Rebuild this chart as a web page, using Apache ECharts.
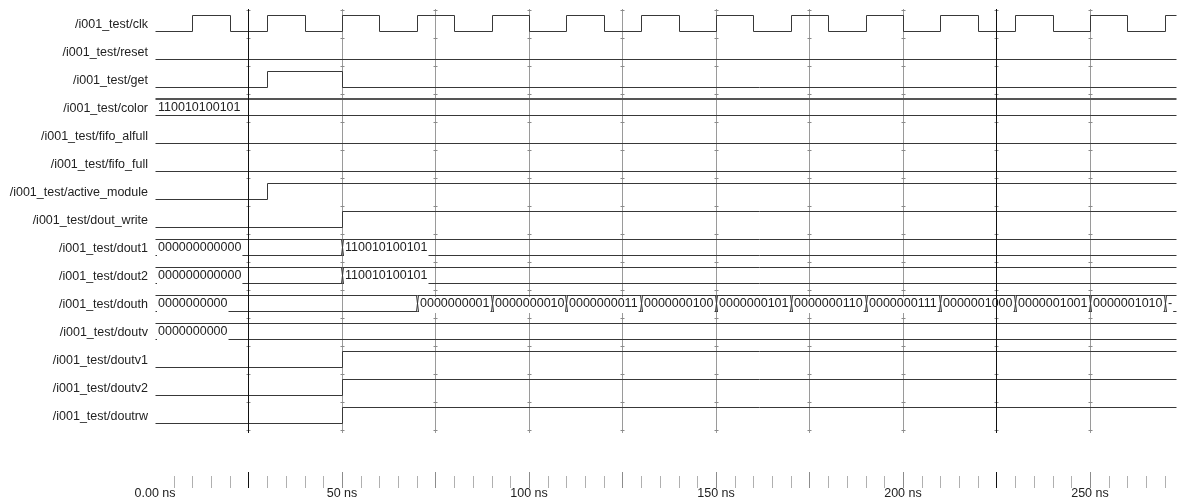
<!DOCTYPE html>
<html><head><meta charset="utf-8">
<script src="https://cdn.jsdelivr.net/npm/echarts@6/dist/echarts.min.js"></script>
<style>html,body{margin:0;padding:0;background:#fff}#c{width:1188px;height:502px}</style>
</head><body><div id="c"></div>
<script>
// ---------- data ----------
const signalNames = [
  '/i001_test/clk', '/i001_test/reset', '/i001_test/get', '/i001_test/color',
  '/i001_test/fifo_alfull', '/i001_test/fifo_full', '/i001_test/active_module',
  '/i001_test/dout_write', '/i001_test/dout1', '/i001_test/dout2', '/i001_test/douth',
  '/i001_test/doutv', '/i001_test/doutv1', '/i001_test/doutv2', '/i001_test/doutrw'
];
const signalKinds = ['bit','bit','bit','bus','bit','bit','bit','bit','bus','bus','bus','bus','bit','bit','bit'];

const clkWave = [[0,0],[10,1],[20,0],[30,1],[40,0],[50,1],[60,0],[70,1],[80,0],[90,1],[100,0],
  [110,1],[120,0],[130,1],[140,0],[150,1],[160,0],[170,1],[180,0],[190,1],[200,0],[210,1],
  [220,0],[230,1],[240,0],[250,1],[260,0],[270,1]];
const resetWave = [[0,0]];
const getWave = [[0,0],[30,1],[50,0]];
const colorBus = [[0,'110010100101']];
const fifoAlfullWave = [[0,0]];
const fifoFullWave = [[0,0]];
const activeModuleWave = [[0,0],[30,1]];
const doutWriteWave = [[0,0],[50,1]];
const dout1Bus = [[0,'000000000000'],[50,'110010100101']];
const dout2Bus = [[0,'000000000000'],[50,'110010100101']];
const douthBus = [[0,'0000000000'],[70,'0000000001'],[90,'0000000010'],[110,'0000000011'],
  [130,'0000000100'],[150,'0000000101'],[170,'0000000110'],[190,'0000000111'],
  [210,'0000001000'],[230,'0000001001'],[250,'0000001010'],[270,'0000001011']];
const doutvBus = [[0,'0000000000']];
const doutv1Wave = [[0,0],[50,1]];
const doutv2Wave = [[0,0],[50,1]];
const doutrwWave = [[0,0],[50,1]];

const signalWaves = [clkWave, resetWave, getWave, colorBus, fifoAlfullWave, fifoFullWave,
  activeModuleWave, doutWriteWave, dout1Bus, dout2Bus, douthBus, doutvBus,
  doutv1Wave, doutv2Wave, doutrwWave];

const timeMin = 0, timeMax = 273;
const gridTimes = [25,50,75,100,125,150,175,200,225,250];
const cursorTimes = [25,225];
const axisLabelTimes = [0,50,100,150,200,250];
const axisLabels = ['0.00 ns','50 ns','100 ns','150 ns','200 ns','250 ns'];
const minorStep = 5, majorStep = 25, lastTick = 270;
const boldTopRows = [3];
const noCoverRows = [3];

// ---------- rendering ----------
const WAVE = '#383838';
const TEXT = '#222';
const FONT = '12.5px "Liberation Sans"';
const mctx = document.createElement('canvas').getContext('2d');
mctx.font = FONT;
const tw = s => mctx.measureText(s).width;
const snap = v => Math.round(v) + 0.5;

const tickData = [];
for (let t = minorStep; t <= lastTick; t += minorStep) tickData.push([t, t % majorStep === 0 ? 1 : 0]);

function renderWave(params, api) {
  const i = api.value(1);
  const wave = signalWaves[i];
  const yc = api.coord([0, i])[1];
  const X = t => snap(api.coord([t, i])[0]);
  const xEnd = X(timeMax);
  const yHi = snap(yc - 10), yLo = snap(yc + 6);
  const kids = [];
  if (signalKinds[i] === 'bit') {
    const pts = [];
    wave.forEach(([t, v], k) => {
      const x = X(t), y = v ? yHi : yLo;
      if (k > 0) pts.push([x, pts[pts.length - 1][1]]);
      pts.push([x, y]);
    });
    pts.push([xEnd, pts[pts.length - 1][1]]);
    kids.push({type: 'polyline', shape: {points: pts}, style: {stroke: WAVE, lineWidth: 1, fill: null}});
  } else {
    const bold = boldTopRows.includes(i), cover = !noCoverRows.includes(i);
    const lines = [], covers = [], texts = [], trans = [];
    wave.forEach(([t, v], k) => {
      const x0 = X(t), x1 = k < wave.length - 1 ? X(wave[k + 1][0]) : xEnd;
      if (bold) lines.push({type: 'line', shape: {x1: x0, y1: yHi - 0.5, x2: x1, y2: yHi - 0.5}, style: {stroke: '#555', lineWidth: 2}});
      else lines.push({type: 'line', shape: {x1: x0, y1: yHi, x2: x1, y2: yHi}, style: {stroke: WAVE, lineWidth: 1}});
      lines.push({type: 'line', shape: {x1: x0, y1: yLo, x2: x1, y2: yLo}, style: {stroke: WAVE, lineWidth: 1}});
      if (k > 0) {
        trans.push({type: 'line', shape: {x1: x0 - 1, y1: yHi, x2: x0 + 1, y2: yLo}, style: {stroke: WAVE, lineWidth: 1}});
        trans.push({type: 'line', shape: {x1: x0 - 1, y1: yLo, x2: x0 + 1, y2: yHi}, style: {stroke: WAVE, lineWidth: 1}});
      }
      const w = tw(v);
      const label = w <= (x1 - x0 - 1) ? v : '-';
      const lw = label === v ? w : tw(label);
      if (cover) covers.push({type: 'rect', shape: {x: x0 + 1.5, y: Math.round(yc - 8), width: lw + 2, height: 16}, style: {fill: '#fff'}});
      texts.push({type: 'text', style: {text: label, x: x0 + 2.5, y: yc - 1.5, font: FONT, fill: TEXT, align: 'left', verticalAlign: 'middle'}});
    });
    kids.push(...lines, ...covers, ...texts, ...trans);
  }
  return {type: 'group', children: kids};
}

function renderGridLine(params, api) {
  const cs = params.coordSys;
  const x = snap(api.coord([api.value(0), 0])[0]);
  const kids = [{type: 'line', shape: {x1: x, y1: cs.y - 2, x2: x, y2: cs.y + cs.height + 2}, style: {stroke: '#9a9a9a', lineWidth: 1}}];
  const n = signalNames.length;
  for (let r = 0; r <= n; r++) {
    const y = snap(cs.y + r * cs.height / n - 1);
    kids.push({type: 'line', shape: {x1: x - 2, y1: y, x2: x + 2, y2: y}, style: {stroke: '#8a8a8a', lineWidth: 1}});
  }
  return {type: 'group', children: kids};
}

function renderCursor(params, api) {
  const cs = params.coordSys;
  const x = snap(api.coord([api.value(0), 0])[0]);
  return {type: 'line', shape: {x1: x, y1: cs.y - 2, x2: x, y2: cs.y + cs.height + 2}, style: {stroke: '#111', lineWidth: 1}};
}

function renderTick(params, api) {
  const t = api.value(0), major = api.value(1) === 1;
  const x = snap(api.coord([t, 0])[0]);
  const yB = api.coord([t, 0])[1];
  const yT = api.coord([t, major ? 1 : 0.75])[1];
  const col = cursorTimes.includes(t) ? '#111' : (major ? '#8c8c8c' : '#b0b0b0');
  return {type: 'line', shape: {x1: x, y1: yT, x2: x, y2: yB}, style: {stroke: col, lineWidth: 1}};
}

function renderAxisLabel(params, api) {
  const t = api.value(0), k = api.value(2);
  const p = api.coord([t, 0]);
  return {type: 'text', style: {text: axisLabels[k], x: p[0], y: p[1] + 5.5, font: FONT, fill: TEXT, align: 'center', verticalAlign: 'middle'}};
}

const chart = echarts.init(document.getElementById('c'), null, {renderer: 'canvas'});
chart.setOption({
  animation: false,
  backgroundColor: '#fff',
  grid: [
    {left: 155, right: 12, top: 11, height: 420},
    {left: 155, right: 12, top: 472, height: 16}
  ],
  xAxis: [
    {gridIndex: 0, type: 'value', min: timeMin, max: timeMax, show: false},
    {gridIndex: 1, type: 'value', min: timeMin, max: timeMax, show: false}
  ],
  yAxis: [
    {gridIndex: 0, type: 'category', data: signalNames, inverse: true,
     axisLine: {show: false}, axisTick: {show: false}, splitLine: {show: false},
     axisLabel: {interval: 0, margin: 7, fontSize: 12.5, fontFamily: 'Liberation Sans', color: TEXT}},
    {gridIndex: 1, type: 'value', min: 0, max: 1, show: false}
  ],
  series: [
    {type: 'custom', xAxisIndex: 0, yAxisIndex: 0, z: 1, silent: true, clip: false,
     data: gridTimes.map(t => [t, 0]), renderItem: renderGridLine},
    {type: 'custom', xAxisIndex: 0, yAxisIndex: 0, z: 2, silent: true, clip: false,
     data: signalNames.map((n, i) => [0, i]), renderItem: renderWave},
    {type: 'custom', xAxisIndex: 0, yAxisIndex: 0, z: 3, silent: true, clip: false,
     data: cursorTimes.map(t => [t, 0]), renderItem: renderCursor},
    {type: 'custom', xAxisIndex: 1, yAxisIndex: 1, z: 2, silent: true, clip: false,
     data: tickData, renderItem: renderTick},
    {type: 'custom', xAxisIndex: 1, yAxisIndex: 1, z: 2, silent: true, clip: false,
     data: axisLabelTimes.map((t, k) => [t, 0, k]), renderItem: renderAxisLabel}
  ]
});
</script>
</body></html>
